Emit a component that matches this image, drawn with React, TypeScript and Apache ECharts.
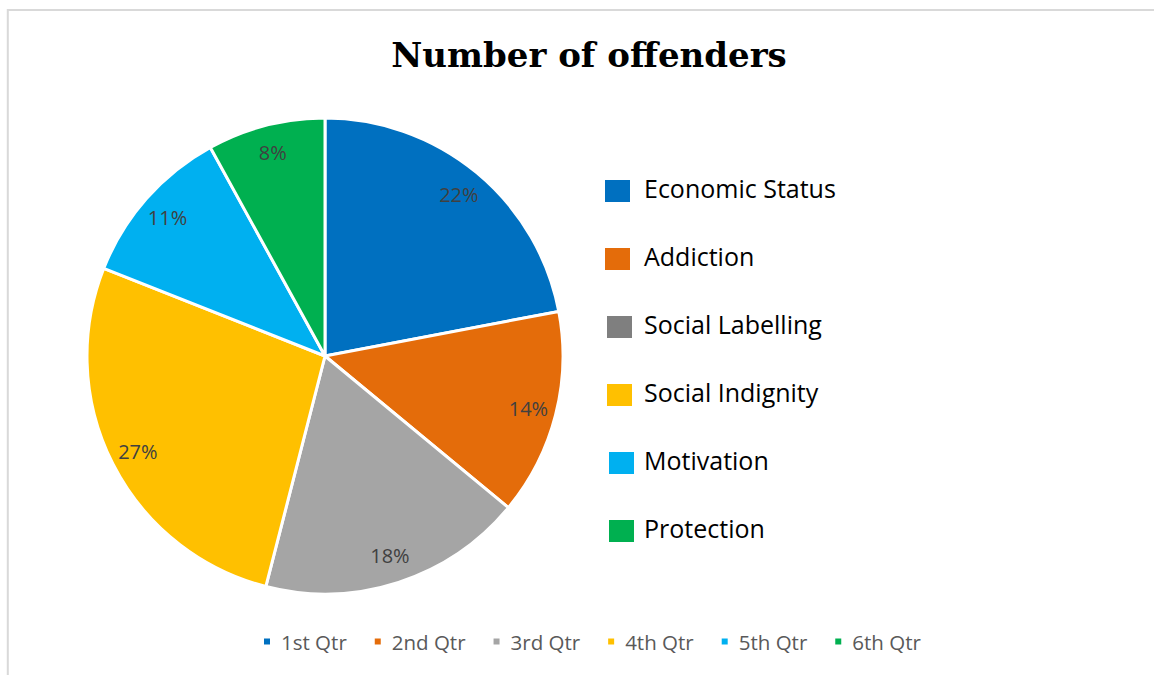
import React, { useEffect, useRef } from "react";
import * as echarts from "echarts";

const title = "Number of offenders";
const sliceNames = ["1st Qtr", "2nd Qtr", "3rd Qtr", "4th Qtr", "5th Qtr", "6th Qtr"];
const sliceValues = [22, 14, 18, 27, 11, 8];
const sliceColors = ["#0070C0", "#E46C0A", "#A5A5A5", "#FFC000", "#00B0F0", "#00B050"];
const factorNames = ["Economic Status", "Addiction", "Social Labelling", "Social Indignity", "Motivation", "Protection"];
const factorColors = ["#0070C0", "#E46C0A", "#7F7F7F", "#FFC000", "#00B0F0", "#00B050"];

export default function App() {
  const ref = useRef<HTMLDivElement>(null);
  useEffect(() => {
    document.body.style.margin = "0";
    const chart = echarts.init(ref.current!, null, { renderer: "svg" });
    const data = sliceNames.map((n, i) => ({ name: n, value: sliceValues[i], itemStyle: { color: sliceColors[i] } }));
    const textFont = "'Open Sans', Lato, sans-serif";
    const factorGraphics: any[] = [];
    factorNames.forEach((n, i) => {
      const cy = 191 + i * 68;
      factorGraphics.push({
        type: "rect",
        shape: { x: 605 + (i >= 2 ? 2 : 0) + (i >= 4 ? 2 : 0), y: cy - 11, width: 25, height: 22 },
        style: { fill: factorColors[i] },
      });
      factorGraphics.push({
        type: "text",
        x: 644,
        y: cy - 3,
        style: { text: n, fill: "#000000", font: `25px ${textFont}`, textVerticalAlign: "middle", textAlign: "left" },
      });
    });
    chart.setOption({
      animation: false,
      title: {
        text: title,
        left: 584,
        textAlign: "center",
        top: 33,
        textStyle: { fontFamily: "'DejaVu Serif', serif", fontWeight: "bold", fontSize: 34, color: "#000" },
      },
      legend: {
        data: sliceNames,
        top: 626,
        left: 257,
        icon: "rect",
        itemWidth: 8,
        itemHeight: 8,
        itemGap: 26,
        textStyle: { fontFamily: textFont, fontSize: 20.5, color: "#595959", padding: [0, 0, 0, 5] },
      },
      graphic: [
        {
          type: "rect",
          shape: { x: 7.8, y: 10, width: 2000, height: 2000 },
          style: { fill: "none", stroke: "#D9D9D9", lineWidth: 2 },
          silent: true,
        },
        ...factorGraphics,
      ],
      series: [
        {
          type: "pie",
          center: [325, 356],
          radius: [0, 238],
          startAngle: 90,
          clockwise: true,
          data,
          itemStyle: { borderColor: "#ffffff", borderWidth: 3 },
          label: { show: false },
          labelLine: { show: false },
          emphasis: { disabled: true },
        },
        {
          type: "pie",
          center: [325, 356],
          radius: [176, 238],
          startAngle: 90,
          clockwise: true,
          silent: true,
          data: sliceNames.map((n, i) => ({ name: n, value: sliceValues[i], itemStyle: { color: "transparent" } })),
          label: {
            show: true,
            position: "inside",
            formatter: (p: any) => `${p.value}%`,
            fontFamily: textFont,
            fontSize: 20,
            color: "#404040",
          },
          labelLine: { show: false },
          emphasis: { disabled: true },
        },
      ],
    });
    return () => chart.dispose();
  }, []);
  return <div ref={ref} style={{ width: 1154, height: 675 }} />;
}
